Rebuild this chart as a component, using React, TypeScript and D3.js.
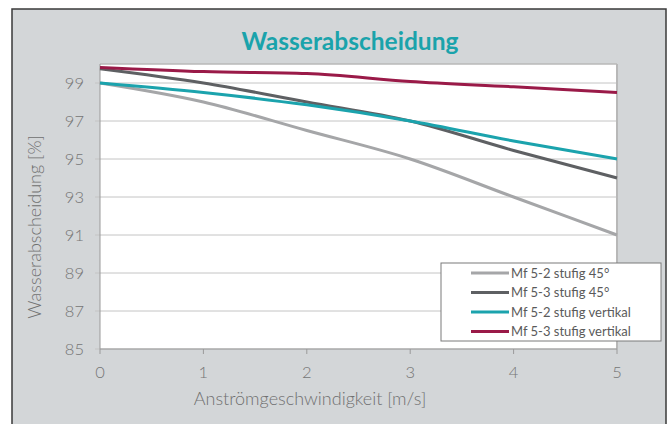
import React from "react";
import * as d3 from "d3";

const xValues = [0, 1, 2, 3, 4, 5];
const seriesNames = [
  "Mf 5-2 stufig 45°",
  "Mf 5-3 stufig 45°",
  "Mf 5-2 stufig vertikal",
  "Mf 5-3 stufig vertikal",
];
const mf52_45 = [99, 98, 96.5, 95, 93, 91];
const mf53_45 = [99.75, 99, 98, 97, 95.45, 94];
const mf52_vert = [99, 98.5, 97.85, 97, 95.95, 95];
const mf53_vert = [99.82, 99.6, 99.5, 99.08, 98.8, 98.5];
const seriesColors = ["#a5a6a8", "#5e6063", "#1ba3ad", "#9a1a48"];
const yTicks = [85, 87, 89, 91, 93, 95, 97, 99];
const xTicks = [0, 1, 2, 3, 4, 5];

const W = 672;
const H = 424;
const left = 100;
const right = 617;
const top = 64;
const bottom = 349;

export default function App() {
  const x = d3.scaleLinear().domain([0, 5]).range([left, right]);
  const y = d3.scaleLinear().domain([85, 100]).range([bottom, top]);
  const allSeries = [mf52_45, mf53_45, mf52_vert, mf53_vert];
  const line = d3
    .line<number>()
    .x((_, i) => x(xValues[i]))
    .y((d) => y(d))
    .curve(d3.curveMonotoneX);
  const font = "Lato, 'Open Sans', sans-serif";
  const legendX = 441;
  const legendY = 263;
  return (
    <svg
      width={W}
      height={H}
      style={{ position: "absolute", left: 0, top: 0 }}
      fontFamily={font}
    >
      <rect x={0} y={0} width={W} height={H} fill="#ffffff" />
      <rect x={12} y={9} width={654} height={430} fill="#d3d6d8" stroke="#3a3a3a" strokeWidth={1.5} />
      <text
        x={350}
        y={50}
        textAnchor="middle"
        fill="#1aa3ab"
        fontSize={24.5}
        fontWeight={700}
      >
        Wasserabscheidung
      </text>
      <rect x={left} y={top} width={right - left} height={bottom - top} fill="#ffffff" />
      {yTicks.map((t) => (
        <g key={t}>
          <line x1={left - 5} x2={right} y1={y(t)} y2={y(t)} stroke="#c4c4c4" strokeWidth={1} />
          <text x={84} y={y(t) + 6} textAnchor="end" fill="#757575" fontSize={16.5} fontWeight={300}>
            {t}
          </text>
        </g>
      ))}
      <line x1={left} x2={right} y1={top} y2={top} stroke="#b8b8b8" strokeWidth={1.5} />
      <line x1={right} x2={right} y1={top} y2={bottom} stroke="#b8b8b8" strokeWidth={2} />
      <line x1={left} x2={left} y1={top} y2={bottom} stroke="#9a9a9a" strokeWidth={1} />
      <line x1={left} x2={right} y1={bottom} y2={bottom} stroke="#9a9a9a" strokeWidth={1} />
      {xTicks.map((t) => (
        <g key={t}>
          <line x1={x(t)} x2={x(t)} y1={bottom} y2={bottom + 5} stroke="#9a9a9a" />
          <text x={x(t)} y={378} textAnchor="middle" fill="#757575" fontSize={16.5} fontWeight={300}>
            {t}
          </text>
        </g>
      ))}
      {allSeries.map((s, i) => (
        <path key={i} d={line(s) || ""} fill="none" stroke={seriesColors[i]} strokeWidth={3} />
      ))}
      <text x={310} y={405} textAnchor="middle" fill="#707070" fontSize={18} fontWeight={300}>
        Anströmgeschwindigkeit [m/s]
      </text>
      <text
        transform="translate(41,227) rotate(-90)"
        textAnchor="middle"
        fill="#707070"
        fontSize={18}
        fontWeight={300}
      >
        Wasserabscheidung [%]
      </text>
      <rect x={legendX} y={legendY} width={220} height={78} fill="#ffffff" stroke="#7a7a7a" strokeWidth={1} />
      {seriesNames.map((n, i) => {
        const ry = legendY + 10 + i * 19.5;
        return (
          <g key={n}>
            <line x1={471} x2={509} y1={ry} y2={ry} stroke={seriesColors[i]} strokeWidth={3} />
            <text x={511} y={ry + 4.5} fill="#5a5a5a" fontSize={13}>
              {n}
            </text>
          </g>
        );
      })}
    </svg>
  );
}
